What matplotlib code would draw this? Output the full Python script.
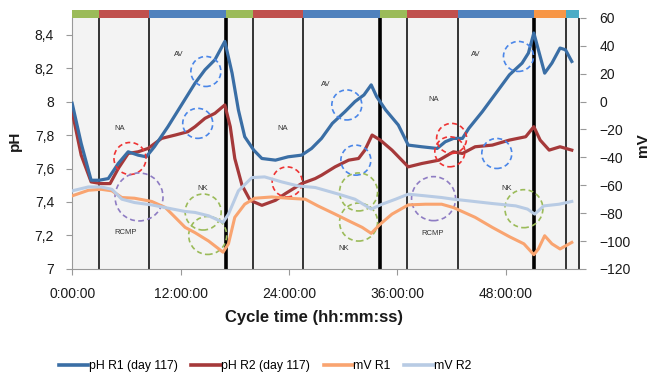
import matplotlib
matplotlib.use("Agg")
import matplotlib.pyplot as plt
from matplotlib.patches import Ellipse, Rectangle
from matplotlib.lines import Line2D

# cycle time in hours
ph1_t = [0, 1.0, 2.1, 3.0, 4.0, 5.1, 6.2, 7.3, 8.2, 9.1, 10.6, 12.1, 13.6, 14.7, 15.8, 16.9,
         17.7, 18.4, 19.1, 20.1, 21.0, 22.5, 23.9, 25.4, 26.5, 27.6, 28.8, 30.2, 31.3, 32.3,
         33.1, 33.7, 34.7, 36.1, 37.2, 38.7, 40.4, 41.3, 42.2, 43.2, 43.9, 45.4, 46.9, 48.4,
         49.8, 50.5, 51.1, 51.6, 52.3, 53.1, 54.0, 54.6, 55.3]
ph1 = [7.99, 7.75, 7.53, 7.53, 7.54, 7.63, 7.70, 7.68, 7.67, 7.73, 7.85, 7.98, 8.11, 8.19,
       8.25, 8.36, 8.17, 7.95, 7.79, 7.71, 7.66, 7.65, 7.67, 7.68, 7.72, 7.78, 7.87, 7.94,
       8.00, 8.04, 8.10, 8.03, 7.95, 7.86, 7.74, 7.73, 7.72, 7.76, 7.78, 7.78, 7.84, 7.94,
       8.05, 8.16, 8.23, 8.29, 8.41, 8.31, 8.17, 8.23, 8.32, 8.31, 8.24]

ph2_t = [0, 1.0, 2.1, 3.2, 4.2, 5.1, 6.2, 7.3, 8.4, 9.9, 11.4, 12.8, 13.6, 14.7, 15.8, 16.9,
         17.5, 18.0, 18.8, 19.7, 21.0, 22.5, 23.6, 25.4, 26.9, 27.6, 29.1, 30.6, 31.7, 32.4,
         33.2, 34.1, 35.4, 37.2, 38.7, 40.6, 42.2, 43.2, 44.6, 46.5, 48.4, 50.2, 51.1, 51.8,
         52.8, 54.0, 55.3]
ph2 = [7.94, 7.68, 7.52, 7.51, 7.51, 7.60, 7.69, 7.70, 7.72, 7.78, 7.80, 7.82, 7.85, 7.90,
       7.93, 7.98, 7.85, 7.66, 7.50, 7.41, 7.38, 7.41, 7.45, 7.51, 7.54, 7.56, 7.61, 7.65,
       7.66, 7.71, 7.80, 7.77, 7.71, 7.61, 7.63, 7.65, 7.70, 7.69, 7.73, 7.74, 7.77, 7.79,
       7.85, 7.77, 7.71, 7.73, 7.71]

mv1_t = [0, 1.8, 3.2, 4.4, 5.5, 6.9, 8.8, 10.3, 11.4, 12.5, 13.6, 15.1, 16.7, 17.3, 18.0,
         19.1, 20.2, 22.1, 23.9, 25.8, 27.2, 29.1, 30.6, 32.1, 33.1, 34.1, 35.4, 37.2, 39.1,
         40.9, 42.2, 44.6, 46.5, 48.4, 50.0, 51.1, 51.6, 52.3, 53.1, 54.0, 55.3]
mv1 = [-67.6, -63.6, -62.9, -64.0, -68.8, -69.3, -71.6, -75.9, -83.0, -90.2, -94.0, -100.0,
       -108.0, -102.0, -83.0, -73.6, -69.3, -68.4, -69.3, -70.0, -74.8, -80.7, -85.5, -90.2,
       -94.5, -87.9, -80.7, -74.1, -73.6, -73.6, -76.0, -83.0, -90.2, -96.9, -102.0, -109.8,
       -105.7, -96.2, -102.0, -105.7, -101.0]

mv2_t = [0, 1.8, 3.2, 4.4, 5.5, 6.9, 8.8, 10.6, 12.5, 13.6, 15.1, 16.7, 17.3, 18.4, 19.9,
         21.3, 23.2, 25.0, 26.9, 29.5, 31.3, 33.1, 34.3, 35.8, 37.2, 39.1, 40.9, 42.2, 43.9,
         46.5, 49.1, 50.4, 51.2, 52.2, 53.9, 55.3]
mv2 = [-64.0, -61.2, -61.2, -62.9, -70.0, -72.4, -74.1, -76.4, -78.8, -79.5, -81.9, -86.6,
       -80.7, -64.0, -54.5, -54.0, -57.6, -60.5, -61.6, -66.4, -70.0, -77.1, -73.6, -70.0,
       -66.4, -67.6, -68.8, -70.0, -71.2, -73.1, -74.8, -77.1, -80.7, -74.8, -73.6, -71.6]

# phase boundaries (hours) and phase bar colours
phase_edges = [0, 2.95, 8.5, 17.03, 20.0, 25.5, 34.1, 37.05, 42.66, 51.1, 54.7, 56.07]
phase_colors = ["#9bbb59", "#c0504d", "#4f81bd", "#9bbb59", "#c0504d", "#4f81bd",
                "#9bbb59", "#c0504d", "#4f81bd", "#f79646", "#4bacc6"]
cycle_ends = [17.03, 34.1, 51.1]

# dashed event circles: (hour, pH, radius px, colour)
circles = [
    (14.8, 8.18, 15, "#4a86e8"), (13.9, 7.87, 15, "#4a86e8"), (6.4, 7.66, 16, "#ee3333"),
    (7.4, 7.43, 24, "#8e7cc3"), (14.5, 7.34, 18, "#9bbb59"), (15.0, 7.20, 19, "#9bbb59"),
    (23.8, 7.52, 15, "#ee3333"), (30.4, 7.98, 15, "#4a86e8"), (31.4, 7.65, 15, "#4a86e8"),
    (31.7, 7.46, 19, "#9bbb59"), (31.7, 7.28, 19, "#9bbb59"),
    (42.0, 7.78, 15, "#ee3333"), (41.8, 7.70, 15, "#ee3333"), (40.0, 7.42, 22, "#8e7cc3"),
    (49.4, 8.27, 15, "#4a86e8"), (47.0, 7.69, 15, "#4a86e8"), (50.0, 7.36, 19, "#9bbb59"),
]
notes = [
    (11.8, 8.28, "AV"), (5.3, 7.84, "NA"), (14.5, 7.48, "NK"), (5.9, 7.22, "RCMP"),
    (28.1, 8.10, "AV"), (23.3, 7.84, "NA"), (30.1, 7.12, "NK"),
    (40.0, 8.01, "NA"), (39.9, 7.21, "RCMP"), (44.7, 8.28, "AV"), (48.1, 7.48, "NK"),
]

C_PH1, C_PH2, C_MV1, C_MV2 = "#3a6ea5", "#a5393a", "#f9a470", "#b8cbe4"
TXT = "#1a1a1a"
plt.rcParams["font.family"] = ["Liberation Sans", "DejaVu Sans"]

fig = plt.figure(figsize=(6.62, 3.74), dpi=100)
ax = fig.add_axes([0.109, 0.281, 0.767, 0.671])
ax.set_facecolor("#f3f3f3")
ax.set_xlim(0, 56.2)
ax.set_ylim(7, 8.5)
ax2 = ax.twinx()
ax2.set_ylim(-120, 60)

for edge in phase_edges[1:]:
    ax.axvline(edge, color="black", lw=2.6 if edge in cycle_ends else 1.1, zorder=1)

for left, right, color in zip(phase_edges[:-1], phase_edges[1:], phase_colors):
    ax.add_patch(Rectangle((left, 1.0), right - left, 0.03, transform=ax.get_xaxis_transform(),
                           color=color, clip_on=False, lw=0))

ax.plot(ph2_t, ph2, color=C_PH2, lw=2.3, zorder=3)
ax.plot(ph1_t, ph1, color=C_PH1, lw=2.3, zorder=3)
ax2.plot(mv1_t, mv1, color=C_MV1, lw=2.2)
ax2.plot(mv2_t, mv2, color=C_MV2, lw=2.2)

px_h = ax.bbox.width / 56.2
px_ph = ax.bbox.height / 1.5
for hx, py, r, color in circles:
    ax2.add_patch(Ellipse((hx, py), 2 * r / px_h, 2 * r / px_ph, transform=ax.transData,
                          fill=False, edgecolor=color, lw=1.2, ls=(0, (3, 2))))
for hx, py, label in notes:
    ax2.text(hx, py, label, transform=ax.transData, fontsize=5.5, color="#333333",
             ha="center", va="center")

ax.set_xticks([0, 12, 24, 36, 48], ["0:00:00", "12:00:00", "24:00:00", "36:00:00", "48:00:00"])
ax.set_yticks([7, 7.2, 7.4, 7.6, 7.8, 8, 8.2, 8.4],
              ["7", "7,2", "7,4", "7,6", "7,8", "8", "8,2", "8,4"])
ax2.set_yticks(range(-120, 61, 20))
for a in (ax, ax2):
    a.tick_params(labelsize=10, labelcolor=TXT, color="#999999", length=4, width=0.8)
    for side in ("top", "left", "right", "bottom"):
        a.spines[side].set_visible(False)
ax.tick_params(axis="y", pad=9)
ax.tick_params(axis="x", pad=9)
ax2.tick_params(axis="y", pad=10)
ax.spines["left"].set_visible(True)
ax.spines["bottom"].set_visible(True)
ax.spines["left"].set_color("#999999")
ax.spines["bottom"].set_color("#999999")

ax.set_xlabel("Cycle time (hh:mm:ss)", fontsize=12, fontweight="bold", color=TXT)
ax.xaxis.set_label_coords(0.476, -0.163)
fig.text(15 / 662, 1 - 141 / 374, "pH", rotation=90, fontsize=11, fontweight="bold",
         color=TXT, ha="center", va="center")
fig.text(643 / 662, 1 - 145 / 374, "mV", rotation=90, fontsize=11, fontweight="bold",
         color=TXT, ha="center", va="center")

handles = [Line2D([], [], color=c, lw=2.6) for c in (C_PH1, C_PH2, C_MV1, C_MV2)]
fig.legend(handles, ["pH R1 (day 117)", "pH R2 (day 117)", "mV R1", "mV R2"],
           loc="center left", bbox_to_anchor=(59 / 662, 1 - 366 / 374), ncol=4,
           frameon=False, handlelength=2.4, handletextpad=0.05, columnspacing=1.1,
           borderpad=0, borderaxespad=0, prop={"size": 8.8})

fig.savefig("out.png", dpi=100, facecolor="white")
